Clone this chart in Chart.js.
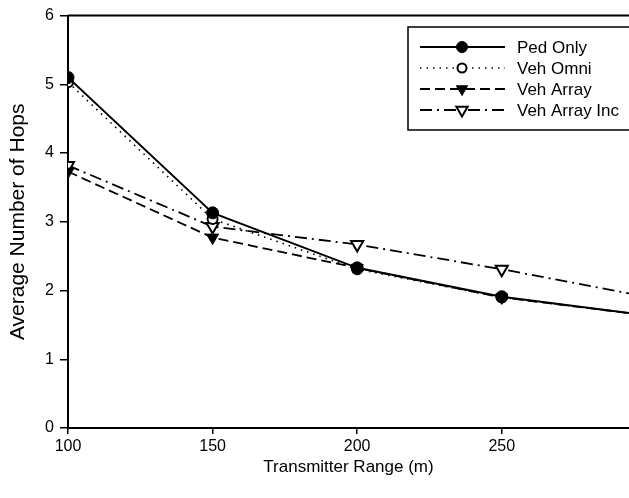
<!DOCTYPE html>
<html>
<head>
<meta charset="utf-8">
<script src="https://cdn.jsdelivr.net/npm/chart.js@4.4.1/dist/chart.umd.min.js"></script>
<style>
  html, body { margin: 0; padding: 0; background: #fff; }
  #wrap { width: 629px; height: 498px; position: relative; }
</style>
</head>
<body>
<div id="wrap"><canvas id="c" width="629" height="498"></canvas></div>
<script>
// ---- data ----
const ranges = [100, 150, 200, 250, 300];
const pedOnly = [5.10, 3.13, 2.33, 1.91, 1.64];
const vehOmni = [5.03, 3.04, 2.31, 1.90, 1.64];
const vehArray = [3.73, 2.77, 2.33, 1.90, 1.64];
const vehArrayInc = [3.82, 2.93, 2.67, 2.31, 1.91];
const xTicks = [100, 150, 200, 250];
const yTicks = [0, 1, 2, 3, 4, 5, 6];
const seriesNames = ['Ped Only', 'Veh Omni', 'Veh Array', 'Veh Array Inc'];

const FONT = "'Liberation Sans', Arial, sans-serif";

function pts(arr) { return ranges.map((x, i) => ({ x: x, y: arr[i] })); }

const datasets = [
  { label: seriesNames[0], data: pts(pedOnly), borderColor: '#000', backgroundColor: '#000',
    borderWidth: 2, borderDash: [], pointStyle: 'circle', pointRadius: 6, pointRotation: 0,
    pointBackgroundColor: '#000', pointBorderColor: '#000', pointBorderWidth: 1 },
  { label: seriesNames[1], data: pts(vehOmni), borderColor: '#000', backgroundColor: '#fff',
    borderWidth: 1.6, borderDash: [1.5, 5], pointStyle: 'circle', pointRadius: 5, pointRotation: 0,
    pointBackgroundColor: '#fff', pointBorderColor: '#000', pointBorderWidth: 2 },
  { label: seriesNames[2], data: pts(vehArray), borderColor: '#000', backgroundColor: '#000',
    borderWidth: 1.8, borderDash: [10, 5], pointStyle: 'triangle', pointRadius: 7, pointRotation: 180,
    pointBackgroundColor: '#000', pointBorderColor: '#000', pointBorderWidth: 1 },
  { label: seriesNames[3], data: pts(vehArrayInc), borderColor: '#000', backgroundColor: '#fff',
    borderWidth: 1.8, borderDash: [12, 5, 2, 5], pointStyle: 'triangle', pointRadius: 7, pointRotation: 180,
    pointBackgroundColor: '#fff', pointBorderColor: '#000', pointBorderWidth: 2 }
];
datasets.forEach(d => { d.tension = 0; d.fill = false; });

const frameAndLegend = {
  id: 'frameAndLegend',
  afterDraw(chart) {
    const ctx = chart.ctx;
    const a = chart.chartArea;
    ctx.save();
    // top frame line
    ctx.strokeStyle = '#000';
    ctx.lineWidth = 2;
    ctx.setLineDash([]);
    ctx.beginPath();
    ctx.moveTo(a.left, a.top);
    ctx.lineTo(chart.width, a.top);
    ctx.stroke();

    // legend box
    const bx = 408, by = 27, bw = 260, bh = 103;
    ctx.fillStyle = '#fff';
    ctx.fillRect(bx, by, bw, bh);
    ctx.lineWidth = 1.5;
    ctx.strokeRect(bx, by, bw, bh);

    const rowY = [47, 68, 89, 110];
    chart.data.datasets.forEach((ds, i) => {
      const y = rowY[i];
      ctx.save();
      ctx.strokeStyle = ds.borderColor;
      ctx.lineWidth = ds.borderWidth;
      ctx.setLineDash(ds.borderDash || []);
      ctx.beginPath();
      ctx.moveTo(420, y);
      ctx.lineTo(505, y);
      ctx.stroke();
      ctx.setLineDash([]);
      ctx.fillStyle = ds.pointBackgroundColor;
      ctx.strokeStyle = ds.pointBorderColor;
      ctx.lineWidth = ds.pointBorderWidth;
      Chart.helpers.drawPoint(ctx, {
        pointStyle: ds.pointStyle, radius: ds.pointRadius - 0.5, rotation: ds.pointRotation,
        borderWidth: ds.pointBorderWidth
      }, 462, y);
      ctx.restore();
      ctx.fillStyle = '#000';
      ctx.font = '17px ' + FONT;
      ctx.textAlign = 'left';
      ctx.textBaseline = 'middle';
      ctx.fillText(ds.label, 517, y + 1);
    });
    ctx.restore();
  }
};

new Chart(document.getElementById('c'), {
  type: 'line',
  data: { datasets: datasets },
  options: {
    responsive: false,
    animation: false,
    devicePixelRatio: 1,
    layout: { autoPadding: false, padding: { top: 14, right: 0, left: 0, bottom: 0 } },
    plugins: { legend: { display: false }, tooltip: { enabled: false } },
    scales: {
      x: {
        type: 'linear', min: 100, max: 294,
        afterBuildTicks: s => { s.ticks = xTicks.map(v => ({ value: v })); },
        afterFit: s => { s.height = 70; s.paddingRight = 0; s.paddingLeft = 0; },
        grid: { display: true, drawOnChartArea: false, drawTicks: true, tickLength: 6, color: '#000', lineWidth: 1.5 },
        border: { display: true, color: '#000', width: 2 },
        ticks: { color: '#000', font: { family: FONT, size: 16 }, padding: 3, maxRotation: 0 },
        title: { display: true, text: 'Transmitter Range (m)', color: '#000',
                 font: { family: FONT, size: 17 }, padding: { top: 4, bottom: 20 } }
      },
      y: {
        type: 'linear', min: 0, max: 6,
        afterBuildTicks: s => { s.ticks = yTicks.map(v => ({ value: v })); },
        afterFit: s => { s.width = 68; },
        grid: { display: true, drawOnChartArea: false, drawTicks: true, tickLength: 8, color: '#000', lineWidth: 1.5 },
        border: { display: true, color: '#000', width: 2 },
        ticks: { color: '#000', font: { family: FONT, size: 16 }, padding: 6 },
        title: { display: true, text: 'Average Number of Hops', color: '#000',
                 font: { family: FONT, size: 21 }, padding: { top: 6, bottom: 0 } }
      }
    }
  },
  plugins: [frameAndLegend]
});
</script>
</body>
</html>
